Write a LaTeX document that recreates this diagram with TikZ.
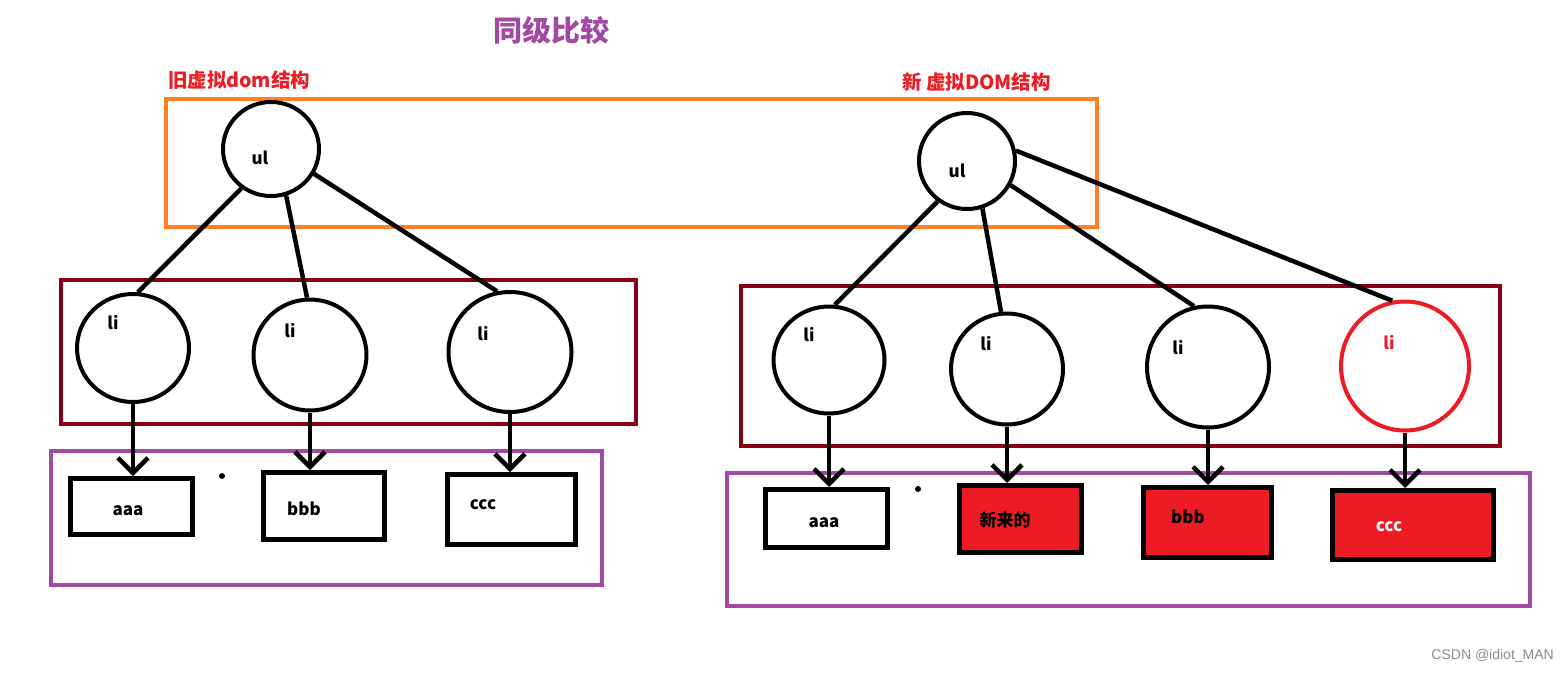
\documentclass[tikz,border=0pt]{standalone}
\usepackage{fontspec}
\setmainfont{Noto Sans CJK SC}
\newfontfamily\wmfont{Liberation Sans}
\usetikzlibrary{shapes.geometric,arrows.meta}
\definecolor{myorange}{HTML}{FF7F27}
\definecolor{mydarkred}{HTML}{880015}
\definecolor{mypurple}{HTML}{A349A4}
\definecolor{myred}{HTML}{ED1C24}
\tikzset{
  circ/.style={ellipse, draw=black, line width=4pt, inner sep=0pt},
  box/.style={rectangle, draw=black, line width=5pt, inner sep=0pt},
  frame/.style={line width=4pt},
  conn/.style={line width=4.5pt},
  arr/.style={line width=4.5pt, -{Straight Barb[length=15pt,width=30pt]}},
  lbl/.style={inner sep=0pt, font=\fontsize{17}{20}\selectfont\bfseries},
  captext/.style={inner sep=0pt, anchor=west, text=myred, font=\fontsize{19.5}{22}\selectfont\bfseries}
}
\begin{document}
\begin{tikzpicture}[x=1pt,y=-1pt]
\useasboundingbox[fill=white] (0,0) rectangle (1568,672);
% title
\node[inner sep=0pt, text=mypurple, font=\fontsize{29}{32}\selectfont\bfseries] (title) at (551,30) {同级比较};
\node[captext] (oldcap) at (168,80) {旧虚拟dom结构};
\node[captext] (newcap) at (902,82) {新 虚拟DOM结构};
% frames
\draw[frame, draw=myorange] (166,99) rectangle (1097,227);
\draw[frame, draw=mydarkred] (61,280) rectangle (636,424);
\draw[frame, draw=mydarkred] (741,286) rectangle (1500,446);
\draw[frame, draw=mypurple] (51,451) rectangle (602,585);
\draw[frame, draw=mypurple] (727,473) rectangle (1530,606);
% old tree
\node[circ, minimum width=96pt, minimum height=94pt] (ul1) at (271,149) {};
\node[lbl] (ul1t) at (260,158) {ul};
\node[circ, minimum width=112pt, minimum height=108pt] (li1) at (133,348) {};
\node[circ, minimum width=113pt, minimum height=111pt] (li2) at (310,355) {};
\node[circ, minimum width=123pt, minimum height=120pt] (li3) at (510,352) {};
\node[lbl] (li1t) at (113,323) {li};
\node[lbl] (li2t) at (290,331) {li};
\node[lbl] (li3t) at (483,334) {li};
\node[box, minimum width=122pt, minimum height=56pt] (a1) at (131.5,506.5) {};
\node[box, minimum width=121pt, minimum height=67pt] (b1) at (324,506) {};
\node[box, minimum width=128pt, minimum height=70pt] (c1) at (511.5,509.5) {};
\node[lbl] (a1t) at (128,511) {aaa};
\node[lbl] (b1t) at (304,509) {bbb};
\node[lbl] (c1t) at (483,505) {ccc};
\draw[conn] (ul1.233) -- (li1.85);
\draw[conn] (ul1.288) -- (li2.93);
\draw[conn] (ul1.330) -- (li3.102);
\draw[arr] (li1.south) -- (li1.south |- a1.north);
\draw[arr] (li2.south) -- (li2.south |- b1.north);
\draw[arr] (li3.south) -- (li3.south |- c1.north);
\fill (222,476) circle (3);
% new tree
\node[circ, minimum width=96pt, minimum height=96pt] (ul2) at (967,161) {};
\node[lbl] (ul2t) at (957,171) {ul};
\node[circ, minimum width=111pt, minimum height=107pt] (r1) at (829,360) {};
\node[circ, minimum width=112pt, minimum height=111pt] (r2) at (1007,369) {};
\node[circ, minimum width=122pt, minimum height=121pt] (r3) at (1208,367) {};
\node[circ, draw=myred, minimum width=128pt, minimum height=129pt] (r4) at (1405,366) {};
\node[lbl] (r1t) at (809,335) {li};
\node[lbl] (r2t) at (986,344) {li};
\node[lbl] (r3t) at (1178,348) {li};
\node[lbl, text=myred] (r4t) at (1389,343) {li};
\node[box, minimum width=122pt, minimum height=58pt] (a2) at (826.5,518.5) {};
\node[box, fill=myred, minimum width=122pt, minimum height=67pt] (n2) at (1020.5,519) {};
\node[box, fill=myred, minimum width=128pt, minimum height=70pt] (b2) at (1207.5,522.5) {};
\node[box, fill=myred, minimum width=161pt, minimum height=69pt] (c2) at (1413,525) {};
\node[lbl] (a2t) at (824,523) {aaa};
\node[lbl] (n2t) at (1005,520) {新来的};
\node[lbl] (b2t) at (1188,517) {bbb};
\node[lbl, text=white] (c2t) at (1389,527) {ccc};
\draw[conn] (ul2.234) -- (r1.84);
\draw[conn] (ul2.288) -- (r2.96);
\draw[conn] (ul2.331) -- (r3.103);
\draw[conn] (ul2.12) -- (r4.101);
\draw[arr] (r1.south) -- (r1.south |- a2.north);
\draw[arr] (r2.south) -- (r2.south |- n2.north);
\draw[arr] (r3.south) -- (r3.south |- b2.north);
\draw[arr] (r4.south) -- (r4.south |- c2.north);
\fill (918,489) circle (3);
% watermark
\node[inner sep=0pt, anchor=east, text=black!45, font=\wmfont\fontsize{14}{16}\selectfont] (wm) at (1554,656) {CSDN @idiot\_MAN};
\end{tikzpicture}
\end{document}
